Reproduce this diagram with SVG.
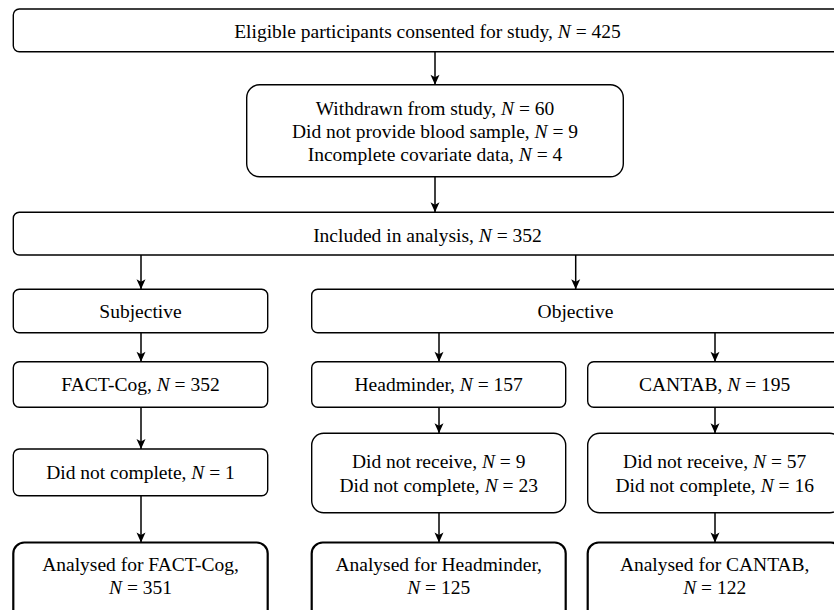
<svg xmlns="http://www.w3.org/2000/svg" width="834" height="610" viewBox="0 0 834 610">
<defs>
<style>
.box{fill:#fff;stroke:#000;stroke-width:1.4}
.fin{fill:#fff;stroke:#000;stroke-width:2.2}
.t{font-family:"Liberation Serif","Times New Roman",serif;font-size:19.5px;fill:#000;text-anchor:middle}
.i{font-style:italic}
.c{stroke:#000;stroke-width:1.5;fill:none;marker-end:url(#ah)}
</style>
<marker id="ah" markerUnits="userSpaceOnUse" markerWidth="12" markerHeight="12" viewBox="-11 -6 12 12" refX="0" refY="0" orient="auto">
<path d="M0,0 L-10,-4.5 L-7.5,0 L-10,4.5 Z" fill="#000"/>
</marker>
</defs>
<rect width="834" height="610" fill="#fff"/>
<g id="connectors">
<line class="c" x1="435" y1="51.7" x2="435" y2="84.7"/>
<line class="c" x1="435" y1="176.7" x2="435" y2="212.3"/>
<line class="c" x1="141" y1="255" x2="141" y2="289.3"/>
<line class="c" x1="575.7" y1="255" x2="575.7" y2="289.3"/>
<line class="c" x1="141" y1="332.7" x2="141" y2="361.7"/>
<line class="c" x1="439" y1="332.7" x2="439" y2="361.7"/>
<line class="c" x1="715" y1="332.7" x2="715" y2="361.7"/>
<line class="c" x1="141" y1="407.3" x2="141" y2="449"/>
<line class="c" x1="439" y1="407.3" x2="439" y2="433.3"/>
<line class="c" x1="715" y1="407.3" x2="715" y2="433.3"/>
<line class="c" x1="141" y1="495.7" x2="141" y2="542.5"/>
<line class="c" x1="439" y1="512.7" x2="439" y2="542.5"/>
<line class="c" x1="715" y1="512.7" x2="715" y2="542.5"/>
</g>
<g id="n-eligible">
<rect class="box" x="13.3" y="9" width="830" height="42.7" rx="6"/>
<text class="t" x="427.5" y="37.7">Eligible participants consented for study, <tspan class="i">N</tspan> = 425</text>
</g>
<g id="n-excluded">
<rect class="box" x="246.7" y="84.7" width="376.6" height="92" rx="13"/>
<text class="t" x="435" y="115">Withdrawn from study, <tspan class="i">N</tspan> = 60</text>
<text class="t" x="435" y="138.3">Did not provide blood sample, <tspan class="i">N</tspan> = 9</text>
<text class="t" x="435" y="161">Incomplete covariate data, <tspan class="i">N</tspan> = 4</text>
</g>
<g id="n-included">
<rect class="box" x="13.3" y="212.3" width="830" height="42.7" rx="6"/>
<text class="t" x="427.5" y="241.5">Included in analysis, <tspan class="i">N</tspan> = 352</text>
</g>
<g id="n-subjective">
<rect class="box" x="13.3" y="289.3" width="254.4" height="43.4" rx="6"/>
<text class="t" x="140.5" y="317.7">Subjective</text>
</g>
<g id="n-objective">
<rect class="box" x="311.7" y="289.3" width="540" height="43.4" rx="6"/>
<text class="t" x="575.5" y="317.7">Objective</text>
</g>
<g id="n-factcog">
<rect class="box" x="13.3" y="361.7" width="254.4" height="45.6" rx="6"/>
<text class="t" x="140.5" y="391">FACT-Cog, <tspan class="i">N</tspan> = 352</text>
</g>
<g id="n-headminder">
<rect class="box" x="311.7" y="361.7" width="254" height="45.6" rx="6"/>
<text class="t" x="438.7" y="391">Headminder, <tspan class="i">N</tspan> = 157</text>
</g>
<g id="n-cantab">
<rect class="box" x="587.7" y="361.7" width="254" height="45.6" rx="6"/>
<text class="t" x="714.7" y="391">CANTAB, <tspan class="i">N</tspan> = 195</text>
</g>
<g id="n-fact-excl">
<rect class="box" x="13.3" y="449" width="254.4" height="46.7" rx="6"/>
<text class="t" x="140.5" y="479">Did not complete, <tspan class="i">N</tspan> = 1</text>
</g>
<g id="n-head-excl">
<rect class="box" x="311.7" y="433.3" width="254" height="79.4" rx="12"/>
<text class="t" x="438.7" y="468.3">Did not receive, <tspan class="i">N</tspan> = 9</text>
<text class="t" x="438.7" y="491.7">Did not complete, <tspan class="i">N</tspan> = 23</text>
</g>
<g id="n-cantab-excl">
<rect class="box" x="587.7" y="433.3" width="254" height="79.4" rx="12"/>
<text class="t" x="714.7" y="468.3">Did not receive, <tspan class="i">N</tspan> = 57</text>
<text class="t" x="714.7" y="491.7">Did not complete, <tspan class="i">N</tspan> = 16</text>
</g>
<g id="n-fact-final">
<rect class="fin" x="13.3" y="542.5" width="254.4" height="80" rx="11"/>
<text class="t" x="140.5" y="571">Analysed for FACT-Cog,</text>
<text class="t" x="140.5" y="594"><tspan class="i">N</tspan> = 351</text>
</g>
<g id="n-head-final">
<rect class="fin" x="311.7" y="542.5" width="254" height="80" rx="11"/>
<text class="t" x="438.7" y="571">Analysed for Headminder,</text>
<text class="t" x="438.7" y="594"><tspan class="i">N</tspan> = 125</text>
</g>
<g id="n-cantab-final">
<rect class="fin" x="587.7" y="542.5" width="254" height="80" rx="11"/>
<text class="t" x="714.7" y="571">Analysed for CANTAB,</text>
<text class="t" x="714.7" y="594"><tspan class="i">N</tspan> = 122</text>
</g>
</svg>
